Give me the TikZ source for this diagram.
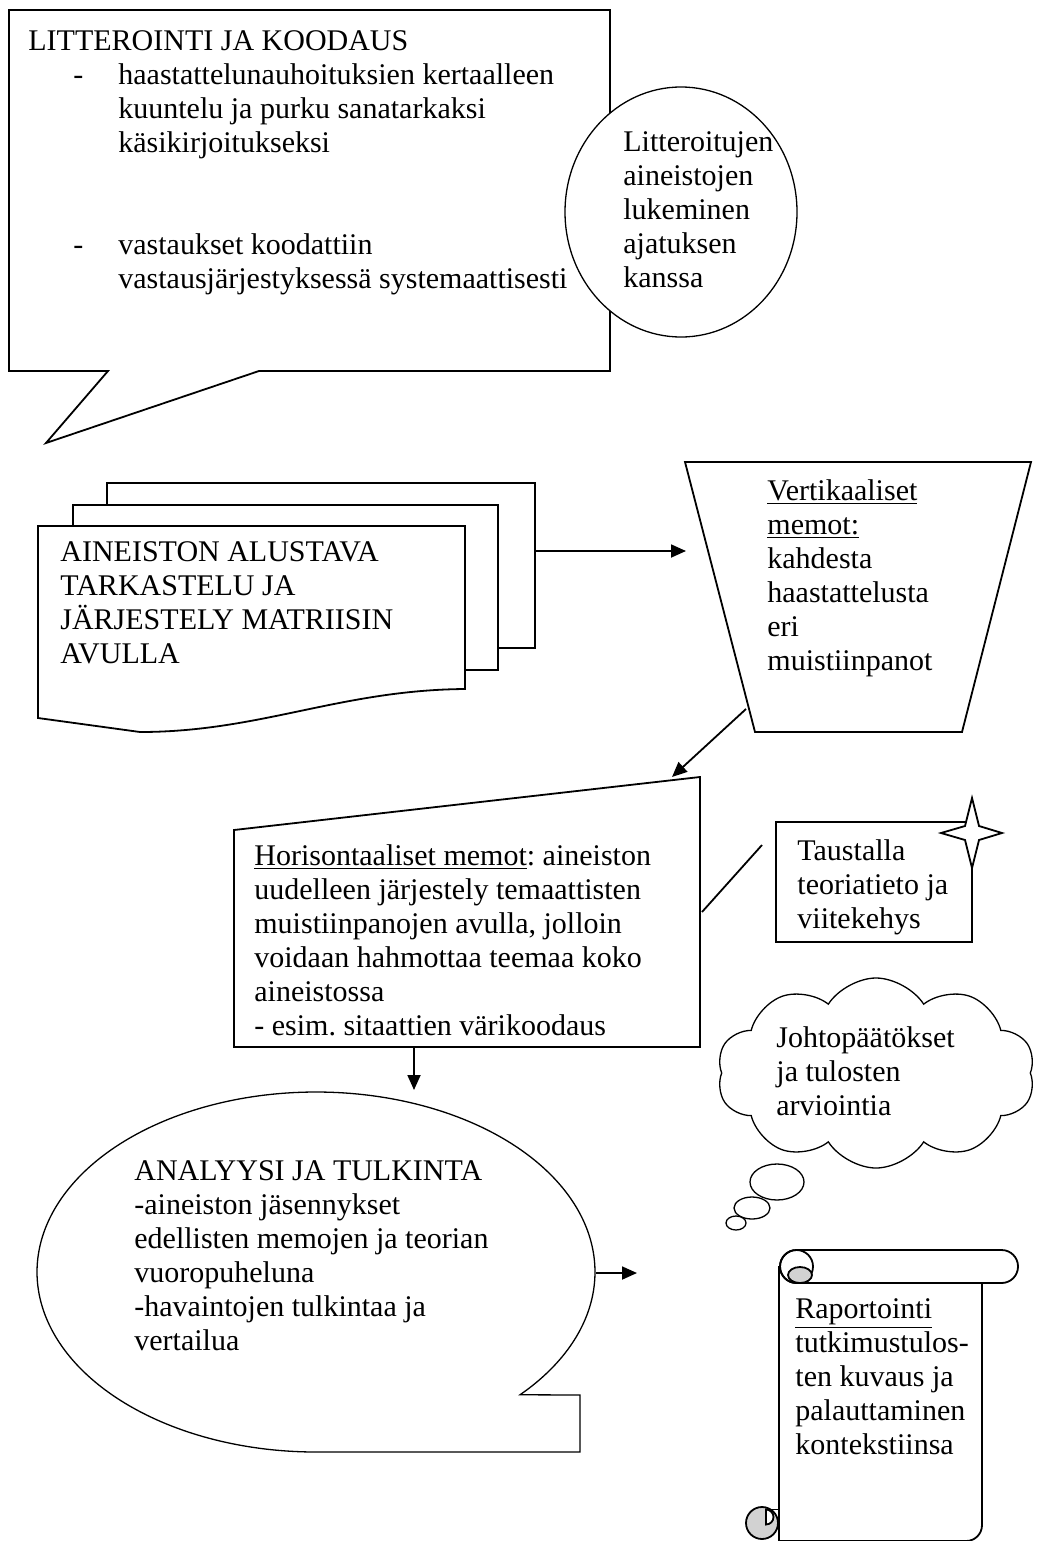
\documentclass[tikz,border=0pt]{standalone}
\usepackage{fontspec}
\setmainfont{Liberation Serif}
\usetikzlibrary{arrows.meta,shapes.symbols}
\frenchspacing
\begin{document}
\begin{tikzpicture}[x=0.5pt,y=-0.5pt,
  shp/.style={draw,line width=0.9pt,fill=white},
  thinshp/.style={draw,line width=0.65pt,fill=white},
  txt/.style={font=\fontsize{15}{17}\selectfont,align=left,inner sep=0pt,anchor=north west},
  conn/.style={line width=0.9pt},
  arr/.style={line width=0.9pt,-{Triangle[length=7.5pt,width=6.5pt]}}]
\useasboundingbox (0,0) rectangle (1037,1541);
% ---------- callout 1
\draw[shp] (9,10) -- (610,10) -- (610,371) -- (259,371) -- (46,443) -- (108,371) -- (9,371) -- cycle;
\draw[thinshp] (681,212) ellipse [x radius=116, y radius=125];
\node[txt] (title1) at (28,26) {\strut LITTEROINTI JA KOODAUS};
\node[txt] (dash1) at (73,60) {\strut -};
\node[txt] (dash2) at (73,230) {\strut -};
\node[txt] (body1) at (118,60) {\strut haastattelunauhoituksien kertaalleen\\kuuntelu ja purku sanatarkaksi\\käsikirjoitukseksi};
\node[txt] (body2) at (118,230) {\strut vastaukset koodattiin\\vastausjärjestyksessä systemaattisesti};
\node[txt] (circtxt) at (623,127) {\strut Litteroitujen\\aineistojen\\lukeminen\\ajatuksen\\kanssa};
% ---------- multidocument
\draw[shp] (107,483) rectangle (535,648);
\draw[shp] (73,505) rectangle (498,670);
\draw[shp] (38,526) -- (465,526) -- (465,689) .. controls (340,690) and (260,732) .. (140,732) -- (38,718) -- cycle;
\node[txt] (doctxt) at (60,537) {\strut AINEISTON ALUSTAVA\\TARKASTELU JA\\JÄRJESTELY MATRIISIN\\AVULLA};
% ---------- trapezoid
\draw[shp] (685,462) -- (1031,462) -- (962,732) -- (755,732) -- cycle;
\node[txt] (traptxt) at (767,476) {\strut\underline{Vertikaaliset}\\\underline{memot:}\\kahdesta\\haastattelusta\\eri\\muistiinpanot};
% ---------- manual input box
\draw[shp] (234,830) -- (700,777) -- (700,1047) -- (234,1047) -- cycle;
\node[txt] (hortxt) at (254,841) {\strut\underline{Horisontaaliset memot}: aineiston\\uudelleen järjestely temaattisten\\muistiinpanojen avulla, jolloin\\voidaan hahmottaa teemaa koko\\aineistossa\\- esim. sitaattien värikoodaus};
% ---------- Taustalla box with star
\draw[shp] (776,822) rectangle (972,942);
\begin{scope}
\clip (776,822) rectangle (972,942);
\node[txt] (taustxt) at (797,836) {\strut Taustalla\\teoriatieto ja\\viitekehys};
\end{scope}
\draw[shp] (972,798) -- (979,826) -- (1002,833) -- (979,840) -- (972,868) -- (965,840) -- (941,833) -- (965,826) -- cycle;
% ---------- cloud
\node[cloud, cloud puffs=10, cloud puff arc=115, draw, line width=0.65pt, fill=white,
      minimum width=159pt, minimum height=95pt, inner sep=0pt] (cloud) at (876,1073) {};
\draw[thinshp] (777,1182) ellipse [x radius=27, y radius=18];
\draw[thinshp] (752,1208) ellipse [x radius=18, y radius=11];
\draw[thinshp] (736,1223) ellipse [x radius=10, y radius=7];
\node[txt] (cloudtxt) at (776,1023) {\strut Johtopäätökset\\ja tulosten\\arviointia};
% ---------- analysis callout
\draw[thinshp] plot[domain=90:403, samples=160, smooth] ({316+279*cos(\x)},{1272+180*sin(\x)}) -- (580,1395) -- (580,1452) -- cycle;
\node[txt] (anatxt) at (134,1156) {\strut ANALYYSI JA TULKINTA\\-aineiston jäsennykset\\edellisten memojen ja teorian\\vuoropuheluna\\-havaintojen tulkintaa ja\\vertailua};
% ---------- scroll
\draw[shp] (779,1266) -- (779,1530) -- (779,1541) -- (966,1541) .. controls (975,1541) and (982,1534) .. (982,1525) -- (982,1283);
\draw[shp, rounded corners=8.2pt] (780,1250) rectangle (1018,1283);
\draw[line width=0.9pt] (796.5,1266.5) circle (16.5);
\draw[line width=0.9pt, fill=gray!35] (800,1275) ellipse [x radius=12, y radius=8];
\draw[line width=0.9pt, fill=gray!35] (762,1523) circle (16);
\draw[line width=0.9pt, fill=white] (766,1509.5) .. controls (770.1,1509.5) and (773.5,1512.9) .. (773.5,1517) .. controls (773.5,1521.1) and (770.1,1524.5) .. (766,1524.5) -- cycle;
\draw[line width=0.9pt] (766,1509.5) -- (779,1509.5);
\node[txt] (scrtxt) at (795,1294) {\strut\underline{Raportointi}\\tutkimustulos-\\ten kuvaus ja\\palauttaminen\\kontekstiinsa};
% ---------- connectors
\coordinate (docR) at (535,551);
\coordinate (trapL) at (686,551);
\coordinate (trapB) at (746,709);
\coordinate (horT) at (672,777);
\coordinate (horB) at (414,1047);
\coordinate (anaT) at (414,1090);
\coordinate (anaR) at (596,1273);
\coordinate (scrL) at (637,1273);
\coordinate (horR) at (702,912);
\coordinate (tausL) at (762,845);
\draw[arr] (docR) -- (trapL);
\draw[arr] (trapB) -- (horT);
\draw[arr] (horB) -- (anaT);
\draw[arr] (anaR) -- (scrL);
\draw[conn] (horR) -- (tausL);
\end{tikzpicture}
\end{document}
